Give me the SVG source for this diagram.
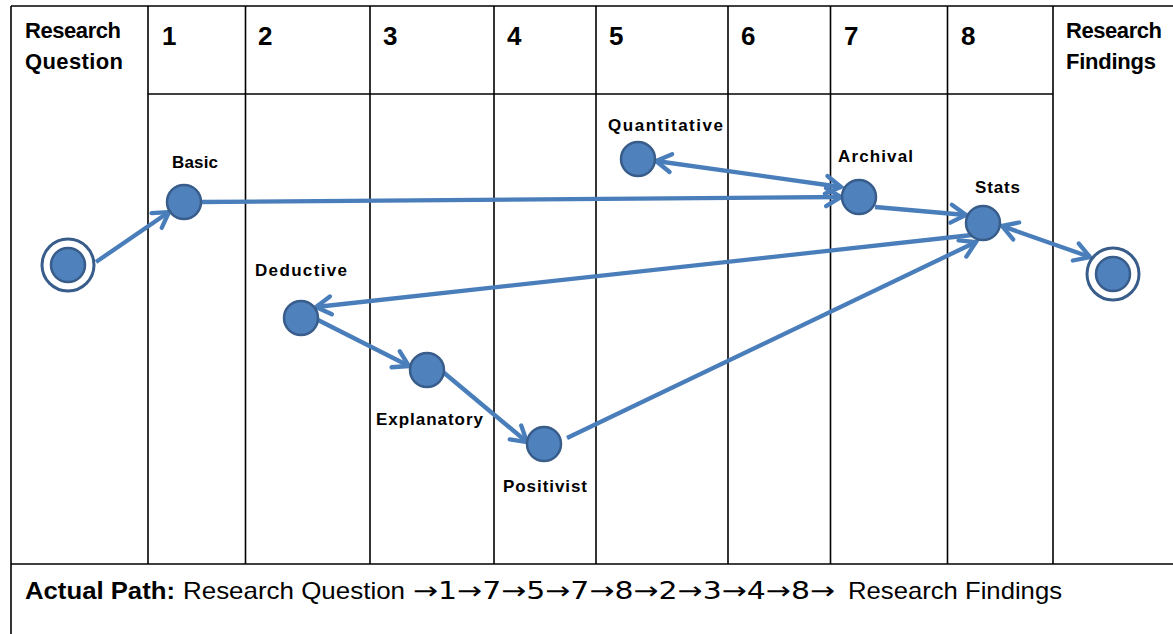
<svg xmlns="http://www.w3.org/2000/svg" width="1173" height="634" viewBox="0 0 1173 634">
<style>
.grid{stroke:#000;stroke-width:1.6;fill:none}
.hdr{font-family:"Liberation Sans",Arial,sans-serif;font-weight:bold;font-size:22px;fill:#000}
.num{font-family:"Liberation Sans",Arial,sans-serif;font-weight:bold;font-size:26px;fill:#000}
.lbl{font-family:"Liberation Sans",Arial,sans-serif;font-weight:bold;font-size:17px;fill:#000}
.foot{font-family:"Liberation Sans",Arial,sans-serif;font-size:24px;fill:#000}
.arr{font-family:"DejaVu Sans",sans-serif;font-size:24px}
.node{fill:#4f81bd;stroke:#385d8a;stroke-width:2.5}
.ring{fill:#fff;stroke:#385d8a;stroke-width:3}
.edge{stroke:#4a7ebb;stroke-width:4.3;fill:none}
</style>
<defs>
<marker id="ah" markerUnits="userSpaceOnUse" viewBox="-20 -14 26 28" markerWidth="26" markerHeight="28" refX="0" refY="0" orient="auto-start-reverse">
<path d="M-15,-9 L0,0 L-15,9" fill="none" stroke="#4a7ebb" stroke-width="4.3" stroke-linecap="round"/>
</marker>
</defs>
<rect width="1173" height="634" fill="#fff"/>
<g id="table">
<line class="grid" x1="11" y1="6" x2="1173" y2="6" stroke-width="2"/>
<line class="grid" x1="11" y1="6" x2="11" y2="634"/>
<line class="grid" x1="11" y1="564" x2="1173" y2="564"/>
<line class="grid" x1="148" y1="94" x2="1053" y2="94"/>
<line class="grid" x1="148" y1="6" x2="148" y2="564"/>
<line class="grid" x1="245.5" y1="6" x2="245.5" y2="564"/>
<line class="grid" x1="370" y1="6" x2="370" y2="564"/>
<line class="grid" x1="494" y1="6" x2="494" y2="564"/>
<line class="grid" x1="596" y1="6" x2="596" y2="564"/>
<line class="grid" x1="728" y1="6" x2="728" y2="564"/>
<line class="grid" x1="830.5" y1="6" x2="830.5" y2="564"/>
<line class="grid" x1="947.5" y1="6" x2="947.5" y2="564"/>
<line class="grid" x1="1053" y1="6" x2="1053" y2="564"/>
<text class="hdr" x="25" y="38" textLength="96">Research</text>
<text class="hdr" x="25" y="69" textLength="98">Question</text>
<text class="hdr" x="1066" y="38" textLength="96">Research</text>
<text class="hdr" x="1066" y="69" textLength="90">Findings</text>
<text class="num" x="162" y="45">1</text>
<text class="num" x="258" y="45">2</text>
<text class="num" x="383" y="45">3</text>
<text class="num" x="507" y="45">4</text>
<text class="num" x="609" y="45">5</text>
<text class="num" x="741" y="45">6</text>
<text class="num" x="844" y="45">7</text>
<text class="num" x="961" y="45">8</text>
<text class="foot" y="599"><tspan x="25" font-weight="bold" textLength="150" lengthAdjust="spacingAndGlyphs">Actual Path:</tspan><tspan x="183" textLength="222" lengthAdjust="spacingAndGlyphs">Research Question</tspan><tspan class="arr" x="413" textLength="422" lengthAdjust="spacingAndGlyphs">→1→7→5→7→8→2→3→4→8→</tspan><tspan x="848" textLength="214" lengthAdjust="spacingAndGlyphs">Research Findings</tspan></text>
</g>
<g id="connectors">
<path class="edge" d="M96,262 L169,212" marker-end="url(#ah)"/>
<path class="edge" d="M201,202 L841,197" marker-end="url(#ah)"/>
<path class="edge" d="M656,161 L841,187" marker-start="url(#ah)" marker-end="url(#ah)"/>
<path class="edge" d="M875,207 L966,215" marker-end="url(#ah)"/>
<path class="edge" d="M972,235 L316,307" marker-end="url(#ah)"/>
<path class="edge" d="M318,320 L409,366" marker-end="url(#ah)"/>
<path class="edge" d="M443,372 L527,442" marker-end="url(#ah)"/>
<path class="edge" d="M567,438 L976,242" marker-end="url(#ah)"/>
<path class="edge" d="M1002,226 L1090,257" marker-start="url(#ah)" marker-end="url(#ah)"/>
</g>
<g id="start"><circle class="ring" cx="68" cy="265" r="26"/><circle class="node" cx="68" cy="265" r="17"/></g>
<g id="end"><circle class="ring" cx="1113" cy="274" r="26"/><circle class="node" cx="1113" cy="274" r="17"/></g>
<g id="basic"><circle class="node" cx="184" cy="202" r="17"/><text class="lbl" x="172" y="168" textLength="46">Basic</text></g>
<g id="quantitative"><circle class="node" cx="638" cy="159" r="17"/><text class="lbl" x="608" y="131" textLength="115">Quantitative</text></g>
<g id="archival"><circle class="node" cx="859" cy="197" r="17"/><text class="lbl" x="838" y="162" textLength="75">Archival</text></g>
<g id="stats"><circle class="node" cx="983" cy="223" r="17"/><text class="lbl" x="975" y="193" textLength="45">Stats</text></g>
<g id="deductive"><circle class="node" cx="301" cy="318" r="17"/><text class="lbl" x="255" y="276" textLength="92">Deductive</text></g>
<g id="explanatory"><circle class="node" cx="427" cy="370" r="17"/><text class="lbl" x="376" y="425" textLength="107">Explanatory</text></g>
<g id="positivist"><circle class="node" cx="544" cy="444" r="17"/><text class="lbl" x="503" y="492" textLength="84">Positivist</text></g>
</svg>
